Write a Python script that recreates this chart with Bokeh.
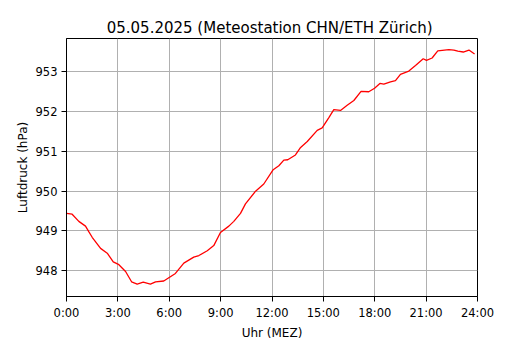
from bokeh.plotting import figure
from bokeh.models import Range1d, FixedTicker
from bokeh.embed import file_html
from bokeh.resources import INLINE

hours = [0.0, 0.33, 0.72, 1.11, 1.3, 1.5, 1.99, 2.38, 2.73, 3.06, 3.45, 3.8, 4.13, 4.48,
         4.9, 5.2, 5.68, 6.36, 6.85, 7.43, 7.73, 8.22, 8.6, 8.99, 9.48, 9.77, 10.16,
         10.45, 11.04, 11.52, 12.07, 12.4, 12.69, 12.92, 13.37, 13.67, 14.06, 14.64,
         14.93, 15.32, 15.61, 16.0, 16.39, 16.78, 17.2, 17.65, 17.99, 18.3, 18.53,
         18.92, 19.21, 19.5, 19.99, 20.38, 20.83, 21.02, 21.35, 21.68, 22.33, 22.62,
         22.85, 23.17, 23.5, 23.83]
pressure = [949.44, 949.42, 949.24, 949.12, 948.98, 948.84, 948.56, 948.44, 948.22,
            948.15, 947.98, 947.72, 947.66, 947.71, 947.66, 947.72, 947.74, 947.93,
            948.19, 948.34, 948.38, 948.50, 948.63, 948.96, 949.12, 949.24, 949.44,
            949.68, 950.00, 950.18, 950.54, 950.64, 950.78, 950.79, 950.91, 951.10,
            951.25, 951.53, 951.59, 951.85, 952.05, 952.03, 952.16, 952.28, 952.51,
            952.50, 952.59, 952.71, 952.69, 952.75, 952.78, 952.94, 953.02, 953.16,
            953.33, 953.29, 953.35, 953.53, 953.56, 953.55, 953.52, 953.50, 953.55,
            953.45]
x_ticks = [0, 3, 6, 9, 12, 15, 18, 21, 24]
x_tick_labels = ["0:00", "3:00", "6:00", "9:00", "12:00", "15:00", "18:00", "21:00", "24:00"]
y_ticks = [948, 949, 950, 951, 952, 953]
title_text = "05.05.2025  (Meteostation CHN/ETH Zürich)"

FONT = "DejaVu Sans"

p = figure(output_backend="svg", toolbar_location=None,
           frame_width=411, frame_height=258,
           min_border_left=66, min_border_right=37, min_border_top=38, min_border_bottom=38,
           x_range=Range1d(0, 24), y_range=Range1d(947.35, 953.84),
           title=title_text)

p.line(hours, pressure, line_color="red", line_width=1.3)

p.title.align = "center"
p.title.text_font = FONT
p.title.text_font_size = "15px"
p.title.text_font_style = "normal"
p.title.text_color = "black"
p.title.standoff = 4

p.outline_line_color = "black"
p.outline_line_width = 1
p.outline_line_alpha = 1

p.xaxis.ticker = FixedTicker(ticks=x_ticks)
p.xaxis.major_label_overrides = {t: l for t, l in zip(x_ticks, x_tick_labels)}
p.yaxis.ticker = FixedTicker(ticks=y_ticks)

p.xaxis.axis_label = "Uhr (MEZ)"
p.yaxis.axis_label = "Luftdruck (hPa)"

for ax in (p.xaxis, p.yaxis):
    ax.axis_label_text_font = FONT
    ax.axis_label_text_font_size = "12px"
    ax.axis_label_text_font_style = "normal"
    ax.axis_label_text_color = "black"
    ax.major_label_text_font = FONT
    ax.major_label_text_font_size = "11.5px"
    ax.major_label_text_color = "black"
    ax.major_tick_in = 0
    ax.major_tick_out = 5
    ax.minor_tick_line_color = None
    ax.axis_line_color = "black"
    ax.major_tick_line_color = "black"
    ax.major_label_standoff = 4
    ax.axis_label_standoff = 3

p.xgrid.grid_line_color = "#b0b0b0"
p.ygrid.grid_line_color = "#b0b0b0"
p.xgrid.grid_line_width = 1
p.ygrid.grid_line_width = 1

open("out.html", "w").write(file_html(p, INLINE))
